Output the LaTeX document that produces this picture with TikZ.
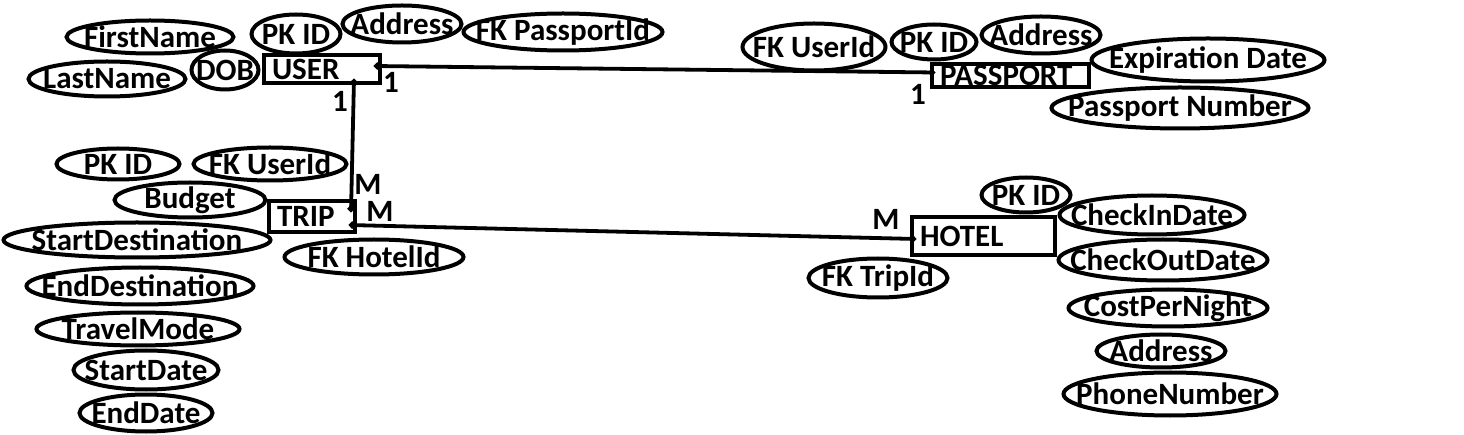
\documentclass[tikz,border=0pt]{standalone}
\usepackage{fontspec}
\setmainfont{Carlito}
\usetikzlibrary{shapes.geometric,calc,arrows.meta}
\newcommand\erfont{\bfseries\fontsize{31}{37}\selectfont}
\tikzset{
  attr/.style={draw, ellipse, line width=4pt, inner sep=0pt},
  attrtext/.style={font=\erfont, inner sep=0pt},
  entity/.style={draw, rectangle, line width=4pt, inner xsep=8pt, inner ysep=0pt, align=left, font=\erfont},
  card/.style={font=\erfont, inner sep=0pt},
  link/.style={line width=3.8pt, {Circle[length=6.5pt]}-{Circle[length=6.5pt]}},
}
% name, text, cx, cy, rx, ry (outer, image pixels)
\newcommand\erattr[6]{\node[attr, minimum width={2*#5-3}, minimum height={2*#6+1}, label={[attrtext]center:#2}] (#1) at (#3,#4) {};}
\begin{document}
\begin{tikzpicture}[x=1pt, y=-1pt]
\useasboundingbox (0,0) rectangle (1464,435);
% USER attributes
\erattr{ufn}{FirstName}{150}{37}{85}{16}
\erattr{uln}{LastName}{107}{79}{80}{17}
\erattr{udob}{DOB}{225}{70}{35}{19}
\erattr{upk}{PK ID}{296}{34}{46}{19}
\erattr{uad}{Address}{402}{24}{61}{18}
\erattr{ufk}{FK PassportId}{563}{32}{101}{18}
% PASSPORT attributes
\erattr{pfk}{FK UserId}{814}{47}{73}{23}
\erattr{ppk}{PK ID}{934}{42}{44}{17}
\erattr{pad}{Address}{1041}{35}{61}{18}
\erattr{pexp}{Expiration Date}{1208}{60}{118}{21}
\erattr{pnum}{Passport Number}{1180}{108}{130}{20}
% TRIP attributes
\erattr{tpk}{PK ID}{118}{164}{63}{15}
\erattr{tfk}{FK UserId}{270}{164}{78}{16}
\erattr{tbud}{Budget}{190}{200}{77}{17}
\erattr{tsd}{StartDestination}{137}{240}{135}{17}
\erattr{ted}{EndDestination}{140}{286}{115}{18}
\erattr{ttm}{TravelMode}{138}{329}{103}{16}
\erattr{tsdate}{StartDate}{146}{370}{74}{19}
\erattr{tedate}{EndDate}{146}{413}{68}{18}
\erattr{tfkh}{FK HotelId}{374}{257}{91}{17}
% HOTEL attributes
\erattr{hpk}{PK ID}{1026}{195}{46}{17}
\erattr{hin}{CheckInDate}{1152}{215}{94}{19}
\erattr{hout}{CheckOutDate}{1163}{260}{106}{20}
\erattr{hcost}{CostPerNight}{1168}{308}{101}{18}
\erattr{had}{Address}{1161}{351}{66}{16}
\erattr{hph}{PhoneNumber}{1170}{394}{108}{21}
\erattr{hfk}{FK TripId}{878}{278}{71}{19}
% entities
\node[entity, text width=100, minimum height=28] (user) at (322,69) {USER};
\node[entity, text width=141, minimum height=23.5] (passport) at (1010.5,75.5) {PASSPORT};
\node[entity, text width=70, minimum height=31.5] (trip) at (312,216.5) {TRIP};
\node[entity, text width=127, minimum height=38.5] (hotel) at (983.5,236) {HOTEL};
% relationships
\draw[link] ($(user.east)+(-8,-3)$) -- ($(passport.west)+(5,-3)$);
\draw[link] ($(user.south east)+(-28,-6)$) -- ($(trip.east)+(-6,-4.5)$);
\draw[link] ($(trip.east)+(-8,8.5)$) -- ($(hotel.west)+(6,3)$);
% cardinalities
\node[card] (c1) at (391,82) {1};
\node[card] (c2) at (340,101) {1};
\node[card] (c3) at (918,94) {1};
\node[card] (m1) at (368,184) {M};
\node[card] (m2) at (380,211) {M};
\node[card] (m3) at (886,219) {M};
\end{tikzpicture}
\end{document}
